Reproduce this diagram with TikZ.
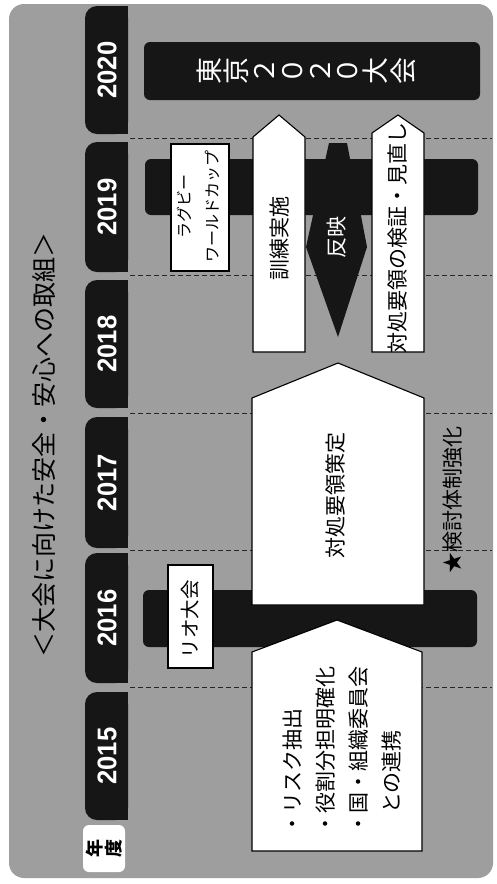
\documentclass[tikz,border=0pt]{standalone}
\usepackage{fontspec}
\setmainfont{Noto Sans CJK JP}
\newfontfamily\numfont{Liberation Sans}
\definecolor{bggray}{RGB}{158,158,158}
\definecolor{barblack}{RGB}{22,22,22}
\tikzset{
  bar/.style={fill=barblack, rounded corners=6pt},
  wbox/.style={draw=black, fill=white, line width=1.3pt},
  warrow/.style={draw=black, fill=white, line width=1.1pt, line join=miter},
  sep/.style={draw=black!85, line width=0.9pt, dash pattern=on 5pt off 3pt},
  vtxt/.style={rotate=90, inner sep=0pt, font=\fontsize{21}{21}\selectfont},
  yr/.style={rotate=90, inner sep=0pt, text=white, font=\numfont\bfseries\fontsize{27}{27}\selectfont},
}
\begin{document}
\begin{tikzpicture}[x=1pt,y=-1pt]
\useasboundingbox (0,0) rectangle (496,884);
\fill[white] (0,0) rectangle (496,884);
\fill[bggray, rounded corners=15pt] (9,4) rectangle (493,878);

% year separators
\foreach \y in {138,275,413,550,687} \draw[sep] (130,\y) -- (492,\y);

% year tabs
\foreach \a/\b/\yr in {6/134/2020, 142/272/2019, 280/408/2018, 417/548/2017, 553/683/2016, 692/820/2015} {
  \fill[barblack, rounded corners=12pt] (85,\a) rectangle (128,\b);
  \fill[barblack] (110,\a) rectangle (128,\b);
  \node[yr] (y\yr) at (107,{(\a+\b)/2}) {\scalebox{0.95}[1]{\yr}};
}

% 年度 label
\fill[white, rounded corners=6pt] (83,825) rectangle (125,872);
\node[rotate=90, inner sep=0pt, align=center, font=\bfseries\fontsize{18}{19}\selectfont] (nendo) at (104,848) {年\\度};

% title
\node[rotate=90, inner sep=0pt, font=\fontsize{25}{25}\selectfont] (title) at (44,445) {＜大会に向けた安全・安心への取組＞};

% black event bars
\fill[bar] (144,42) rectangle (480,100);
\node[rotate=90, inner sep=0pt, align=center, text=white, font=\fontsize{27}{27.7}\selectfont] (tokyo) at (306,71) {東\\京\\２\\０\\２\\０\\大\\会};
\fill[bar] (145,159) rectangle (478,215);
\fill[bar] (143,590) rectangle (477,647);

% 反映 spindle
\fill[barblack] (329,143) -- (347,143) -- (367,247) -- (338,337) -- (306,247) -- cycle;
\node[vtxt, text=white] (hanei) at (337,237) {反映};

% boxes
\draw[wbox] (171,144) rectangle (229,271);
\node[rotate=90, inner sep=0pt, align=center, font=\fontsize{16}{28}\selectfont] (rugby) at (198,206) {ラグビー\\ワールドカップ};
\draw[wbox] (168,565) rectangle (213,668);
\node[rotate=90, inner sep=0pt, font=\fontsize{19.5}{19.5}\selectfont] (rio) at (190,619) {リオ大会};

% white arrows
\draw[warrow] (253,352) -- (253,137) -- (279,115) -- (305,137) -- (305,352) -- cycle;
\draw[warrow] (372,352) -- (372,133) -- (398,115) -- (424,133) -- (424,352) -- cycle;
\draw[warrow] (252,605) -- (252,398) -- (338,363) -- (424,398) -- (424,605) -- cycle;
\draw[warrow] (252,851) -- (252,652) -- (337,620) -- (422,652) -- (422,851) -- cycle;

% texts
\node[vtxt] (kunren) at (280,238) {訓練実施};
\node[vtxt] (kensho) at (398,238) {対処要領の検証・見直し};
\node[vtxt] (sakutei) at (336,495) {対処要領策定};
\node[vtxt] (kyoka) at (453,500) {★検討体制強化};
\node[vtxt, align=left, anchor=west, font=\fontsize{21}{33.3}\selectfont] (risk) at (342,835)
  {・リスク抽出\\・役割分担明確化\\・国・組織委員会\\\hspace*{1em}との連携};
\end{tikzpicture}
\end{document}
